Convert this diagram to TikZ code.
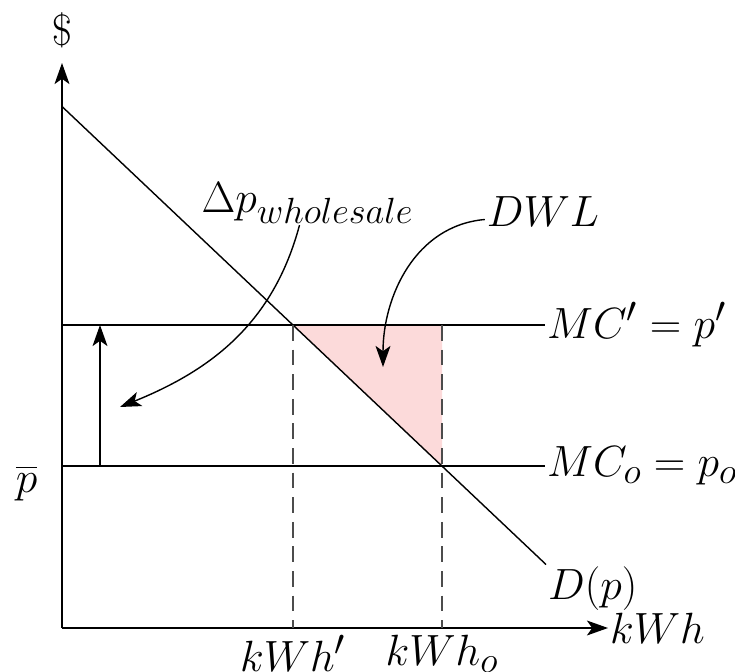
\documentclass[tikz,border=0pt]{standalone}
\usepackage{amsmath,amssymb}
\usepackage{xcolor}
\usepackage{tikz}
\usetikzlibrary{positioning,arrows.meta,calc}
\definecolor{dwlpink}{HTML}{FCDADA}

\begin{document}
\begin{tikzpicture}[
  font=\Huge,
  axis/.style={-{Stealth[length=12pt, width=8.5pt, inset=3pt]}, line width=0.8pt},
  curve/.style={line width=0.8pt},
  arr/.style={-{Stealth[length=12pt, width=8.5pt, inset=3pt]}, line width=0.8pt},
  guide/.style={dashed, black!70, line width=0.6pt, dash pattern=on 9pt off 5pt},
  lab/.style={inner sep=1pt}
]
\useasboundingbox (-1.24,-0.86) rectangle (13.46,12.56);
% ----- axes -----
\coordinate (O)    at (0,0);
\coordinate (ytip) at (0,11.3);
\coordinate (xtip) at (10.92,0);
% ----- demand and cost levels -----
\coordinate (dtop) at (0,10.43);
\coordinate (dend) at (9.68,1.27);
\coordinate (e1)   at (4.62,6.06);
\coordinate (e0)   at (7.60,3.24);
\coordinate (c1)   at (7.60,6.06);
\coordinate (m1l)  at (0,6.06);
\coordinate (m1r)  at (9.66,6.06);
\coordinate (m0l)  at (0,3.24);
\coordinate (m0r)  at (9.66,3.24);
\coordinate (q1)   at (4.62,0);
\coordinate (q0)   at (7.60,0);
% ----- deadweight loss triangle -----
\fill[dwlpink] (e1) -- (c1) -- (e0) -- cycle;
\draw[axis] (O) -- (ytip);
\draw[axis] (O) -- (xtip);
\node[lab, above=2.6mm of ytip] (dollar) {$\$$};
\node[lab, anchor=west] (xlab) at (xtip) {$kWh$};
\draw[curve] (dtop) -- (dend);
\node[lab, anchor=north west] (dlab) at (dend) {$D(p)$};
\draw[curve] (m1l) -- (m1r);
\draw[curve] (m0l) -- (m0r);
\node[lab, anchor=west] (mc1) at (m1r) {$MC' = p'$};
\node[lab, anchor=west] (mc0) at (m0r) {$MC_o = p_o$};
\node[lab] (pbar) at (-0.71,2.9) {$\overline{p}$};
% ----- quantities -----
\draw[guide] (e1) -- (q1);
\draw[guide] (c1) -- (q0);
\node[lab, anchor=north] (q1lab) at ([yshift=-1mm]q1) {$kWh'$};
\node[lab, anchor=north] (q0lab) at ([yshift=-1mm]q0) {$kWh_o$};
% ----- price increase -----
\coordinate (up0) at (0.76,3.24);
\coordinate (up1) at (0.76,6.06);
\draw[arr] (up0) -- (up1);
\node[lab] (dp) at (4.91,8.5) {$\Delta p_{wholesale}$};
\coordinate (dptip) at (1.16,4.42);
\draw[arr] ([xshift=-1.6mm]dp.south) to[out=-105, in=22] (dptip);
% ----- DWL pointer -----
\node[lab] (dwl) at (9.62,8.32) {$DWL$};
\coordinate (dwltip) at (6.42,5.22);
\draw[arr] ([yshift=-1.5mm]dwl.west) to[out=185, in=90] (dwltip);
\end{tikzpicture}
\end{document}
